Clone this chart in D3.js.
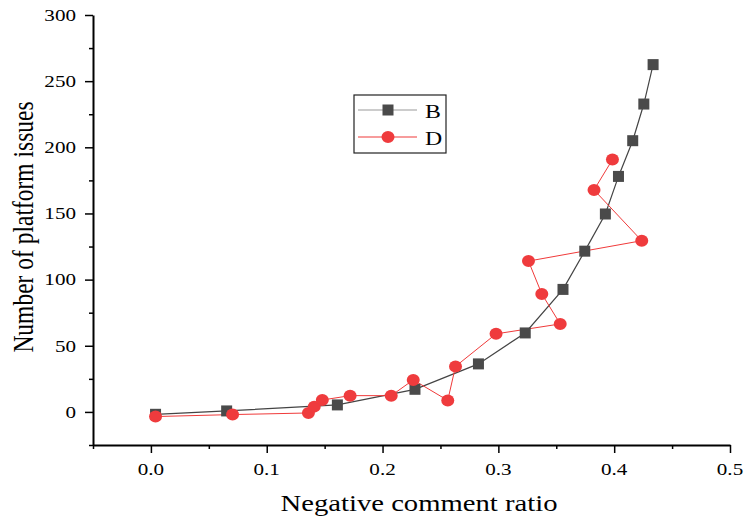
<!DOCTYPE html>
<html>
<head>
<meta charset="utf-8">
<script src="https://cdn.jsdelivr.net/npm/d3@7"></script>
<style>
  body { margin: 0; background: #fff; }
</style>
</head>
<body>
<div id="chart"></div>
<script>
// series B (squares)
var bX = [0.004, 0.0654, 0.161, 0.228, 0.2828, 0.3232, 0.3558, 0.3746, 0.3924, 0.4037, 0.416, 0.4256, 0.4336];
var bY = [-1.8, 0.75, 5.3, 17.1, 36.3, 59.7, 92.6, 121.5, 149.6, 178, 205, 232.7, 262.5];
// series D (circles)
var dX = [0.004, 0.0705, 0.136, 0.141, 0.148, 0.172, 0.2075, 0.2265, 0.2563, 0.263, 0.298, 0.3534, 0.3375, 0.326, 0.4238, 0.3826, 0.3985];
var dY = [-3.5, -2, -0.8, 4, 9, 12.3, 12.3, 24.2, 8.7, 34.4, 59, 66.5, 89.2, 114, 129.4, 167.8, 190.7];

var xTicks = [0, 0.1, 0.2, 0.3, 0.4, 0.5];
var yTicks = [0, 50, 100, 150, 200, 250, 300];
var xMinor = [-0.05, 0.05, 0.15, 0.25, 0.35, 0.45];
var yMinor = [-25, 25, 75, 125, 175, 225, 275];

var FONT = "Liberation Serif";
var SX = 1.22;   // the original picture is stretched a bit sideways

var width = 745, height = 517;
var svg = d3.select("#chart").append("svg")
    .attr("width", width).attr("height", height);

var x = d3.scaleLinear().domain([-0.05, 0.5]).range([93, 730]);
var y = d3.scaleLinear().domain([-25, 300]).range([445, 15]);

// stretched text helper
function label(parent, px, py, txt, size, anchor) {
    return parent.append("text")
        .attr("transform", "translate(" + px + "," + py + ") scale(" + SX + ",1)")
        .attr("text-anchor", anchor || "middle")
        .attr("font-family", FONT)
        .attr("font-size", size)
        .attr("fill", "#000")
        .text(txt);
}

// minor ticks
svg.append("g")
    .attr("transform", "translate(0,445)")
    .call(d3.axisBottom(x).tickValues(xMinor).tickSize(4).tickFormat(""))
    .call(g => g.select(".domain").remove())
    .selectAll("line").attr("stroke-width", 1.5);
svg.append("g")
    .attr("transform", "translate(93,0)")
    .call(d3.axisLeft(y).tickValues(yMinor).tickSize(4).tickFormat(""))
    .call(g => g.select(".domain").remove())
    .selectAll("line").attr("stroke-width", 1.5);

// major ticks + domain
var xAxis = svg.append("g")
    .attr("transform", "translate(0,445)")
    .call(d3.axisBottom(x).tickValues(xTicks).tickSize(8).tickSizeOuter(0).tickFormat(""));
var yAxis = svg.append("g")
    .attr("transform", "translate(93,0)")
    .call(d3.axisLeft(y).tickValues(yTicks).tickSize(8).tickSizeOuter(0).tickFormat(""));
[xAxis, yAxis].forEach(function (g) {
    g.select(".domain").attr("stroke-width", 2);
    g.selectAll(".tick line").attr("stroke-width", 1.5);
});

// tick labels
var tl = svg.append("g");
xTicks.forEach(function (t) {
    label(tl, x(t), 475, d3.format(".1f")(t), 17.3, "middle");
});
yTicks.forEach(function (t) {
    label(tl, 76, y(t) + 5.8, t, 17.3, "end");
});

// axis titles
label(svg, 419, 510.5, "Negative comment ratio", 23.5, "middle");
svg.append("text")
    .attr("transform", "translate(33,227) rotate(-90) scale(1," + SX + ")")
    .attr("text-anchor", "middle")
    .attr("font-family", FONT)
    .attr("font-size", 23.5)
    .text("Number of platform issues");

var line = d3.line().x(d => x(d[0])).y(d => y(d[1]));
var bPts = bX.map((v, i) => [v, bY[i]]);
var dPts = dX.map((v, i) => [v, dY[i]]);

svg.append("path").datum(bPts)
    .attr("fill", "none").attr("stroke", "#444").attr("stroke-width", 1.2)
    .attr("d", line);
svg.append("path").datum(dPts)
    .attr("fill", "none").attr("stroke", "#f03a3a").attr("stroke-width", 1)
    .attr("d", line);

svg.append("g").selectAll("rect").data(bPts).join("rect")
    .attr("x", d => x(d[0]) - 5.5).attr("y", d => y(d[1]) - 5.5)
    .attr("width", 11).attr("height", 11)
    .attr("fill", "#4a4a4a");
svg.append("g").selectAll("ellipse").data(dPts).join("ellipse")
    .attr("cx", d => x(d[0])).attr("cy", d => y(d[1]))
    .attr("rx", 6.5).attr("ry", 6)
    .attr("fill", "#ef3b3d");

// legend
var lg = svg.append("g");
lg.append("rect")
    .attr("x", 354).attr("y", 95).attr("width", 92).attr("height", 58)
    .attr("fill", "#fff").attr("stroke", "#222").attr("stroke-width", 1.2);
var legendItems = [
    { name: "B", y: 110, color: "#999", marker: "rect", fill: "#4a4a4a" },
    { name: "D", y: 137, color: "#f03a3a", marker: "circle", fill: "#ef3b3d" }
];
legendItems.forEach(function (it) {
    lg.append("line")
        .attr("x1", 358).attr("x2", 417).attr("y1", it.y).attr("y2", it.y)
        .attr("stroke", it.color).attr("stroke-width", 1.2);
    if (it.marker === "rect") {
        lg.append("rect").attr("x", 382.5).attr("y", it.y - 5.5)
            .attr("width", 11).attr("height", 11).attr("fill", it.fill);
    } else {
        lg.append("ellipse").attr("cx", 388).attr("cy", it.y)
            .attr("rx", 6.5).attr("ry", 6).attr("fill", it.fill);
    }
    label(lg, 425, it.y + 7.5, it.name, 19.5, "start");
});
</script>
</body>
</html>
